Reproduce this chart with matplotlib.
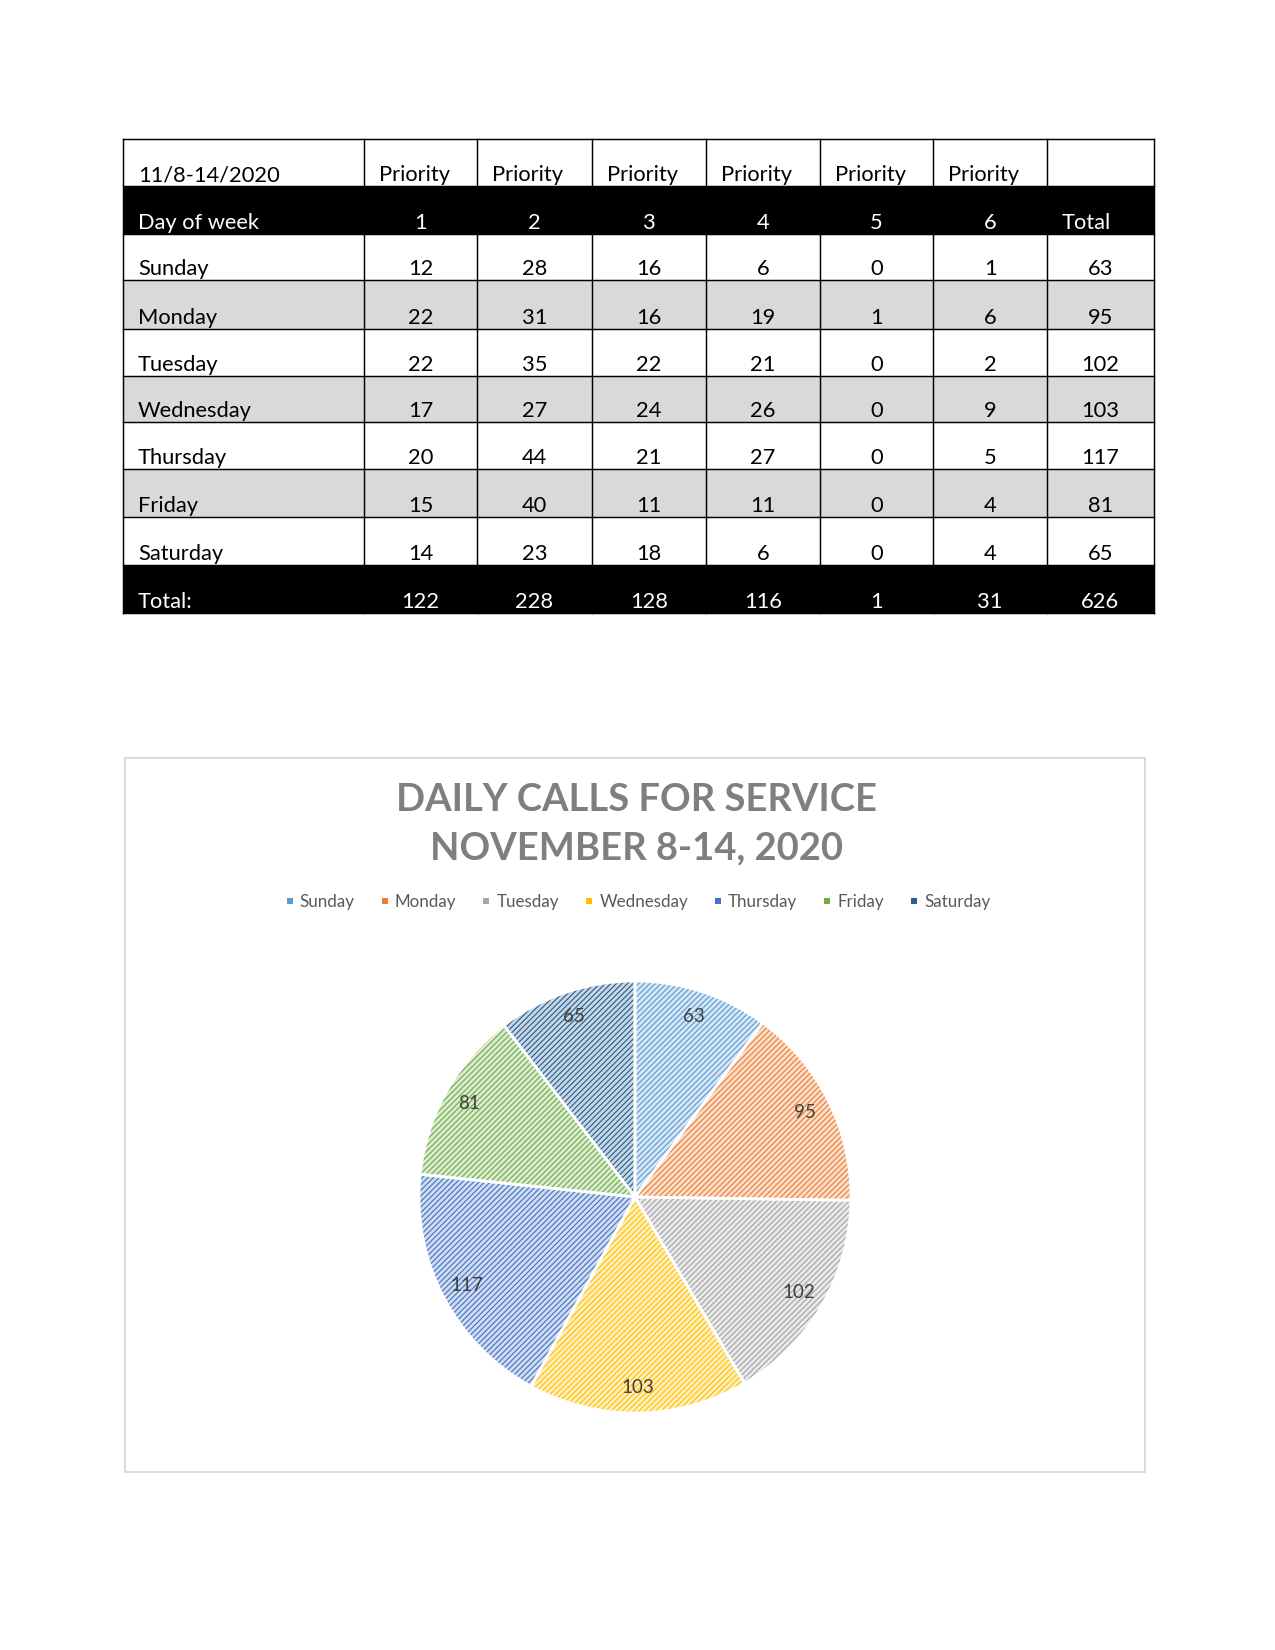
import numpy as np
import matplotlib.pyplot as plt
from matplotlib.patches import Rectangle
from matplotlib.lines import Line2D
from matplotlib.colors import to_rgb

plt.rcParams['font.family'] = ['Lato', 'DejaVu Sans']
plt.rcParams['hatch.linewidth'] = 0.55

# ---- data ----
date_label = '11/8-14/2020'
days = ['Sunday', 'Monday', 'Tuesday', 'Wednesday', 'Thursday', 'Friday', 'Saturday']
priorities = ['1', '2', '3', '4', '5', '6']
priority_1 = [12, 22, 22, 17, 20, 15, 14]
priority_2 = [28, 31, 35, 27, 44, 40, 23]
priority_3 = [16, 16, 22, 24, 21, 11, 18]
priority_4 = [6, 19, 21, 26, 27, 11, 6]
priority_5 = [0, 1, 0, 0, 0, 0, 0]
priority_6 = [1, 6, 2, 9, 5, 4, 4]

counts = np.array([priority_1, priority_2, priority_3, priority_4,
                   priority_5, priority_6]).T
day_totals = counts.sum(axis=1)
priority_totals = counts.sum(axis=0)
grand_total = day_totals.sum()

day_colors = ['#5B9BD5', '#ED7D31', '#A5A5A5', '#FFC000', '#4472C4', '#70AD47', '#255E91']
title_lines = ['DAILY CALLS FOR SERVICE', 'NOVEMBER 8-14, 2020']

W, H = 1275, 1650
fig = plt.figure(figsize=(W / 150, H / 150), dpi=150)
ax = fig.add_axes([0, 0, 1, 1])
ax.set_xlim(0, W)
ax.set_ylim(H, 0)
ax.axis('off')

# ---- table ----
col_edges = [123, 364, 477, 592, 706, 820, 933, 1047, 1154]
row_edges = [139, 186, 234, 280, 329, 376, 422, 469, 517, 565, 613]
pad = 15
fs = 10.5


def cell_text(r, c, s, color='black', align='center'):
    x0, x1 = col_edges[c], col_edges[c + 1]
    y = row_edges[r + 1] - 5
    if align == 'left':
        ax.text(x0 + pad, y, s, ha='left', va='baseline', fontsize=fs, color=color)
    else:
        ax.text((x0 + x1) / 2, y, s, ha='center', va='baseline', fontsize=fs, color=color)


n_rows = len(row_edges) - 1
for r in range(n_rows):
    if r in (1, n_rows - 1):
        fill = 'black'
    elif r >= 2 and (r - 2) % 2 == 1:
        fill = '#D9D9D9'
    else:
        fill = 'white'
    ax.add_patch(Rectangle((col_edges[0], row_edges[r]), col_edges[-1] - col_edges[0],
                           row_edges[r + 1] - row_edges[r], facecolor=fill, edgecolor='none'))

for y in row_edges:
    ax.plot([col_edges[0], col_edges[-1]], [y, y], color='black', lw=0.7)
for x in col_edges:
    ax.plot([x, x], [row_edges[0], row_edges[-1]], color='black', lw=0.7)

# header rows
cell_text(0, 0, date_label, align='left')
for j in range(len(priorities)):
    cell_text(0, j + 1, 'Priority', align='left')
cell_text(1, 0, 'Day of week', color='white', align='left')
for j, p in enumerate(priorities):
    cell_text(1, j + 1, p, color='white')
cell_text(1, 7, 'Total', color='white', align='left')

for i, d in enumerate(days):
    cell_text(i + 2, 0, d, align='left')
    for j in range(len(priorities)):
        cell_text(i + 2, j + 1, str(counts[i, j]))
    cell_text(i + 2, 7, str(day_totals[i]))

cell_text(n_rows - 1, 0, 'Total:', color='white', align='left')
for j in range(len(priorities)):
    cell_text(n_rows - 1, j + 1, str(priority_totals[j]), color='white')
cell_text(n_rows - 1, 7, str(grand_total), color='white')

# ---- chart box ----
ax.add_patch(Rectangle((125, 758), 1145 - 125, 1472 - 758, facecolor='none',
                       edgecolor='#D9D9D9', lw=0.9))
for k, line in enumerate(title_lines):
    ax.text(636, 800 + k * 48, line, ha='center', va='center', fontsize=18.3,
            fontweight='bold', color='#7F7F7F')

# legend
handles = [Line2D([], [], marker='s', linestyle='none', markersize=3.2,
                  markerfacecolor=c, markeredgecolor='none') for c in day_colors]
fig.legend(handles, days, loc='center', bbox_to_anchor=(0.5, 1 - 902 / H), ncol=7,
           frameon=False, fontsize=8.2, labelcolor='#595959', handlelength=0.6,
           handletextpad=0.3, columnspacing=1.45)

# ---- pie ----
cx, cy, rad = 635, 1197, 216
pax = fig.add_axes([(cx - rad) / W, (H - cy - rad) / H, 2 * rad / W, 2 * rad / H])
light = [tuple(0.25 * np.array(to_rgb(c)) + 0.75) for c in day_colors]

pax.pie(day_totals, colors=light, startangle=90, counterclock=False,
        wedgeprops=dict(edgecolor='none', linewidth=0))
hatched, _ = pax.pie(day_totals, startangle=90, counterclock=False,
                     wedgeprops=dict(facecolor='none', linewidth=0))
for w, c in zip(hatched, day_colors):
    w.set_edgecolor(c)
    w.set_hatch('/' * 9)
pax.pie(day_totals, startangle=90, counterclock=False,
        autopct=lambda p: '{:.0f}'.format(p * grand_total / 100), pctdistance=0.88,
        textprops=dict(fontsize=9, color='#404040'),
        wedgeprops=dict(facecolor='none', edgecolor='white', linewidth=1.3))
pax.set_xlim(-1, 1)
pax.set_ylim(-1, 1)
pax.axis('off')

fig.savefig('out.png', dpi=150, facecolor='white')
